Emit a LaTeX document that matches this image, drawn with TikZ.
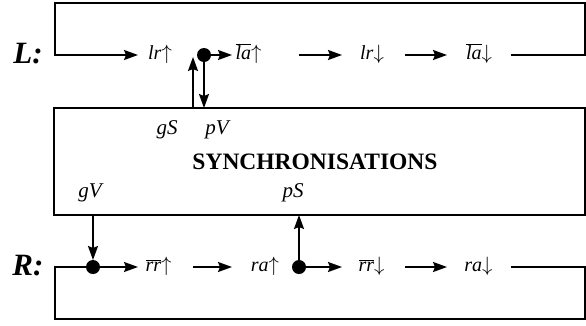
\documentclass[tikz,border=0pt]{standalone}
\usepackage{fontspec}
\setmainfont{Liberation Serif}
\usetikzlibrary{arrows.meta}
\newcommand\olit[1]{$\overline{\hbox{\itshape #1}}$}
\newcommand\upa{$\uparrow$}
\newcommand\dna{$\downarrow$}
\begin{document}
\begin{tikzpicture}[x=1pt,y=-1pt,
  line width=1.8pt,
  arr/.style={-{Stealth[length=14pt,width=10pt,inset=2pt]}},
  lab/.style={inner sep=0pt, outer sep=0pt, minimum height=18pt, font=\fontsize{20}{24}\selectfont},
  dot/.style={circle, fill, inner sep=0pt, outer sep=0pt, minimum size=14pt},
  side/.style={font=\fontsize{31}{34}\selectfont\bfseries\itshape, inner sep=0pt},
  port/.style={font=\fontsize{21}{24}\selectfont\itshape, inner sep=0pt},
  title/.style={font=\fontsize{23.5}{26}\selectfont\bfseries, inner sep=0pt}]
\useasboundingbox (0,0) rectangle (586,325);
% box
\node[draw, minimum width=531pt, minimum height=107pt, inner sep=0pt, outer sep=0pt] (sync) at (319.5,161.5) {};
\node[title] (tt) at (315,162) {SYNCHRONISATIONS};
\node[port] (gS) at (167,130) {gS};
\node[port] (pV) at (217,130) {pV};
\node[port] (gV) at (90,193) {gV};
\node[port] (pS) at (293,193) {pS};
% side labels
\node[side] (Lname) at (28,54) {L:};
\node[side] (Rname) at (28,266) {R:};
% top row
\node[lab, minimum width=24pt] (lru) at (160,54) {\textit{lr}\upa};
\node[dot] (dt) at (204,55) {};
\node[lab, minimum width=27pt] (lau) at (248.5,54) {\olit{la}\upa};
\node[lab, minimum width=32pt] (lrd) at (372,54) {\textit{lr}\dna};
\node[lab, minimum width=32pt] (lad) at (479,54) {\olit{la}\dna};
\coordinate (tlb) at (55,55);
\coordinate (tlt) at (55,3);
\coordinate (trt) at (585,3);
\coordinate (trb) at (585,55);
\coordinate (gSend) at (193,57);
\draw[arr, shorten <=16pt, shorten >=10pt] (lad.east |- trb) -- (trb) -- (trt) -- (tlt) -- (tlb) -- (lru.west |- tlb);
\draw[arr, shorten >=3pt] (dt) -- (lau.west |- dt);
\draw[arr, shorten <=37pt, shorten >=14pt] (lau.east |- dt) -- (lrd.west |- dt);
\draw[arr, shorten <=17pt, shorten >=16pt] (lrd.east |- dt) -- (lad.west |- dt);
\draw[arr] (sync.north -| gSend) -- (gSend);
\draw[arr] (dt) -- (dt |- sync.north);
% bottom row
\node[dot] (db1) at (93,267) {};
\node[lab, minimum width=27pt] (rru) at (158.5,266) {\olit{rr}\upa};
\node[lab, minimum width=30pt] (rau) at (265,266) {\textit{ra}\upa};
\node[dot] (db2) at (299,267) {};
\node[lab, minimum width=33pt] (rrd) at (371.5,266) {\olit{rr}\dna};
\node[lab, minimum width=33pt] (rad) at (478.5,266) {\textit{ra}\dna};
\coordinate (blt) at (55,267);
\coordinate (blb) at (55,319);
\coordinate (brb) at (585,319);
\coordinate (brt) at (585,267);
\draw[arr, shorten >=7pt] (db1) -- (rru.west |- db1);
\draw[arr, shorten <=21pt, shorten >=18pt] (rru.east |- db1) -- (rau.west |- db1);
\draw[arr, shorten >=13pt] (db2) -- (rrd.west |- db2);
\draw[arr, shorten <=17pt, shorten >=15pt] (rrd.east |- db2) -- (rad.west |- db2);
\draw[shorten <=16pt] (rad.east |- brt) -- (brt) -- (brb) -- (blb) -- (blt) -- (db1);
\draw[arr] (sync.south -| db1) -- (db1);
\draw[arr] (db2) -- (db2 |- sync.south);
\end{tikzpicture}
\end{document}
